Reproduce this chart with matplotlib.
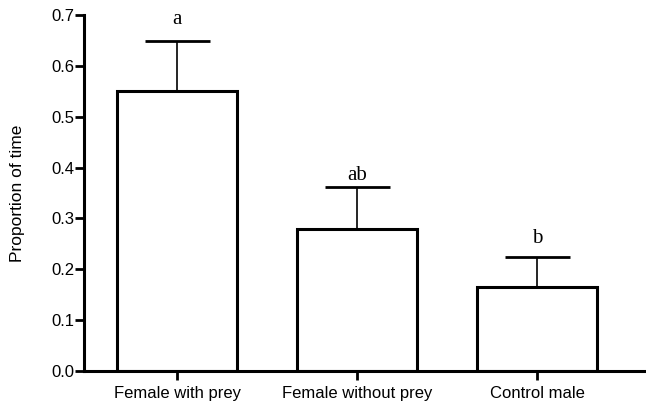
import matplotlib
matplotlib.use("Agg")
import matplotlib.pyplot as plt

groups = ["Female with prey", "Female without prey", "Control male"]
means = [0.551, 0.279, 0.166]
sem = [0.098, 0.082, 0.058]
letters = ["a", "ab", "b"]
letter_y = [0.682, 0.376, 0.252]
yticks = [0.0, 0.1, 0.2, 0.3, 0.4, 0.5, 0.6, 0.7]

plt.rcParams['font.family'] = ['Liberation Sans', 'DejaVu Sans']

fig = plt.figure(figsize=(6.46, 4.08), dpi=100)
ax = fig.add_axes([0.130, 0.0907, 0.870, 0.8725])

x = list(range(len(groups)))
ax.bar(x, means, width=0.667, color="white", edgecolor="black", linewidth=2.2, zorder=2)
ax.errorbar(x, means, yerr=[[0] * len(sem), sem], fmt="none", ecolor="black",
            elinewidth=1.2, capsize=23.4, capthick=2.0, zorder=1)

for xi, lab, ly in zip(x, letters, letter_y):
    ax.text(xi, ly, lab, ha="center", va="baseline", fontsize=15,
            family="Liberation Serif")

ax.set_xlim(-0.517, 2.606)
ax.set_ylim(0, 0.7)
ax.set_yticks(yticks)
ax.set_yticklabels([f"{v:.1f}" for v in yticks])
ax.set_xticks(x)
ax.set_xticklabels(groups)
ax.set_ylabel("Proportion of time", fontsize=12.5)
ax.yaxis.set_label_coords(-0.105, 0.5)

for s in ["top", "right"]:
    ax.spines[s].set_visible(False)
for s in ["left", "bottom"]:
    ax.spines[s].set_linewidth(2.2)
ax.tick_params(axis="both", direction="out", length=6.5, width=2.0)
ax.tick_params(axis="y", labelsize=12, pad=0.5)
ax.tick_params(axis="x", labelsize=12, pad=4)

fig.savefig("out.png", dpi=100)
